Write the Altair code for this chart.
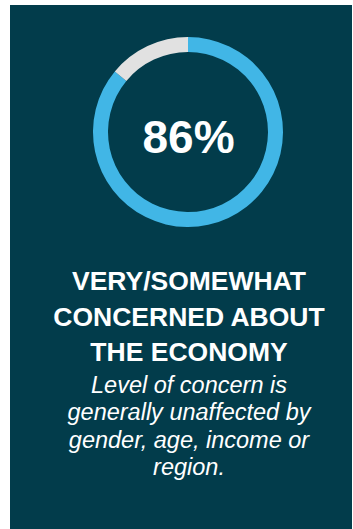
import altair as alt
import pandas as pd

# Donut data
segments = ["Very/somewhat concerned", "Not concerned"]
shares = [86, 14]
seg_order = [0, 1]

# Texts
big_label = ["86%"]
title_lines = ["VERY/SOMEWHAT", "CONCERNED ABOUT", "THE ECONOMY"]
sub_lines = ["Level of concern is", "generally unaffected by", "gender, age, income or", "region."]

BG = "#023C4B"
BLUE = "#41B6E6"
GRAY = "#E1E1E1"
FONT = "Liberation Sans"

W, H = 342, 524
CX, CY = 178, 127

donut_df = pd.DataFrame({"segment": segments, "share": shares, "ord": seg_order})
big_df = pd.DataFrame({"label": big_label})
title_df = pd.DataFrame({"line": title_lines, "row": list(range(len(title_lines)))})
sub_df = pd.DataFrame({"line": sub_lines, "row": list(range(len(sub_lines)))})

donut = alt.Chart(donut_df).mark_arc(radius=95, radius2=80, stroke=None).encode(
    theta=alt.Theta("share:Q", stack=True),
    color=alt.Color("segment:N", scale=alt.Scale(domain=segments, range=[BLUE, GRAY]), legend=None),
    order=alt.Order("ord:Q"),
    x=alt.value(CX),
    y=alt.value(CY),
)

big = alt.Chart(big_df).mark_text(
    font=FONT, fontSize=46, fontWeight="bold", color="white", align="center", baseline="alphabetic"
).encode(text="label:N", x=alt.value(CX + 0.5), y=alt.value(148))

title = alt.Chart(title_df).mark_text(
    font=FONT, fontSize=26.5, fontWeight="bold", color="white", align="center", baseline="alphabetic"
).encode(
    text="line:N",
    x=alt.value(179),
    y=alt.Y("row:Q", scale=alt.Scale(domain=[0, 2], range=[285, 356]), axis=None),
)

sub = alt.Chart(sub_df).mark_text(
    font=FONT, fontSize=23.5, fontStyle="italic", color="white", align="center", baseline="alphabetic"
).encode(
    text="line:N",
    x=alt.value(179),
    y=alt.Y("row:Q", scale=alt.Scale(domain=[0, 3], range=[388, 470]), axis=None),
)

chart = alt.layer(donut, big, title, sub).resolve_scale(y="independent").properties(
    width=W,
    height=H,
    autosize=alt.AutoSizeParams(type="none"),
    padding={"left": 10, "top": 5, "right": 1, "bottom": 0},
    background="white",
).configure_view(fill=BG, stroke=None)

chart.save("out.html", embed_options={"renderer": "svg", "actions": False})
